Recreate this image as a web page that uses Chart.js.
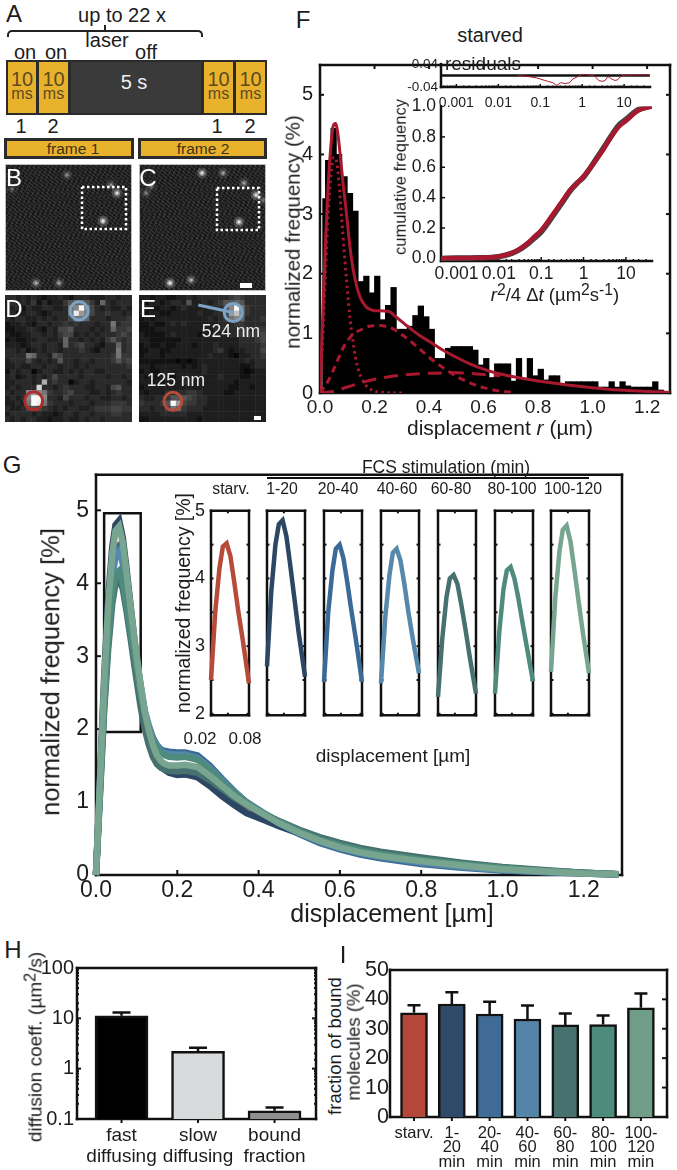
<!DOCTYPE html>
<html>
<head>
<meta charset="utf-8">
<title>Displacement analysis</title>
<script src="https://cdn.jsdelivr.net/npm/chart.js@4/dist/chart.umd.min.js"></script>
<style>
  html, body { margin: 0; padding: 0; background: #fff; }
  #page { position: relative; width: 677px; height: 1170px; overflow: hidden; font-family: "Liberation Sans", Arial, sans-serif; color: #1c1c1c; }
  canvas { position: absolute; }
  .lab { position: absolute; white-space: nowrap; line-height: 1; }
  .lab sup { font-size: 85%; line-height: 0; vertical-align: 0.38em; }
  .box { position: absolute; box-sizing: border-box; }
  .yellow { background: #e9b22d; }
  .micro { background-color: #1d1d1d;
    background-image: repeating-linear-gradient(37deg, rgba(255,255,255,.09) 0 1px, transparent 1px 3px),
                      repeating-linear-gradient(-61deg, rgba(255,255,255,.07) 0 1px, transparent 1px 4px),
                      repeating-linear-gradient(83deg, rgba(0,0,0,.25) 0 2px, transparent 2px 5px);
    border: 1px solid #bbb; }
</style>
</head>
<body>
<div id="page"></div>
<script>
// panel F: histogram of displacements (bin centres in um, frequency in %)
const histX = [0.02,0.03,0.05,0.07,0.09,0.11,0.13,0.15,0.17,0.19,0.21,0.23,0.25,0.27,0.29,0.31,0.33,0.35,0.37,0.39,0.41,0.43,0.45,0.47,0.49,0.51,0.53,0.55,0.57,0.59,0.61,0.63,0.65,0.67,0.69,0.71,0.73,0.75,0.77,0.79,0.81,0.83,0.85,0.87,0.89,0.91,0.93,0.95,0.97,0.99,1.01,1.03,1.05,1.07,1.09,1.11,1.13,1.15,1.17,1.19,1.21,1.23,1.25];
const histY = [3.26,3.9,4.44,4.0,3.63,3.35,3.05,1.87,1.96,1.68,1.96,1.23,1.47,1.77,1.07,1.07,1.12,1.3,1.46,1.28,1.07,0.58,0.58,0.75,0.78,0.78,0.78,0.78,0.72,0.47,0.58,0.26,0.49,0.49,0.49,0.2,0.58,0.23,0.58,0.29,0.4,0.22,0.29,0.29,0.15,0.19,0.19,0.19,0.19,0.19,0.19,0.1,0.1,0.19,0.1,0.19,0.12,0.1,0.1,0.1,0.1,0.19,0.05];
const fastX = [0,0.01,0.02,0.03,0.04,0.05,0.06,0.07,0.08,0.09,0.1,0.11,0.12,0.13,0.14,0.15,0.17,0.19,0.21,0.25,0.3];
const fastY = [0,0.9,2.0,3.0,3.65,3.95,3.9,3.5,2.9,2.3,1.75,1.25,0.9,0.6,0.4,0.27,0.12,0.05,0.02,0.005,0];
const slowX = [0,0.03,0.06,0.09,0.12,0.15,0.18,0.21,0.24,0.27,0.3,0.35,0.4,0.45,0.5,0.55,0.6,0.65,0.7];
const slowY = [0,0.2,0.5,0.8,0.98,1.06,1.12,1.13,1.12,1.07,0.98,0.8,0.6,0.43,0.28,0.17,0.09,0.04,0.01];
const boundX = [0,0.05,0.1,0.15,0.2,0.25,0.3,0.4,0.5,0.6,0.66];
const boundY = [0,0.03,0.1,0.17,0.23,0.27,0.3,0.33,0.34,0.31,0.29];

// panel F insets
const cumX = [0.00043,0.001,0.003,0.01,0.02,0.03,0.05,0.07,0.1,0.2,0.3,0.5,0.7,1,2,3,5,7,10,20,41];
const cumFit = [0,0.002,0.004,0.012,0.035,0.06,0.105,0.145,0.185,0.3,0.37,0.455,0.495,0.54,0.65,0.72,0.82,0.87,0.905,0.975,1.0];
const cumData = [0,0.002,0.004,0.012,0.033,0.056,0.1,0.135,0.175,0.29,0.36,0.45,0.495,0.535,0.655,0.73,0.825,0.88,0.915,0.98,1.005];
const resX = [0.03,0.05,0.08,0.1,0.15,0.2,0.25,0.3,0.4,0.5,0.6,0.8,1,1.5,2,2.5,3,3.5,4,4.5,5,6,7,8,10,20,41];
const resY = [0,-0.003,-0.008,-0.012,-0.02,-0.025,-0.035,-0.025,-0.028,-0.025,-0.012,-0.003,0.004,0.002,-0.002,-0.018,-0.02,-0.018,-0.005,-0.005,-0.012,-0.017,-0.015,-0.005,0.001,0.002,0.002];
const logLabels = [0.001,0.01,0.1,1,10];

// panel G: fitted curves on a common displacement grid
const dispGrid = [0,0.02,0.03,0.04,0.048,0.057,0.066,0.075,0.085,0.095,0.11,0.12,0.13,0.14,0.15,0.16,0.17,0.18,0.2,0.22,0.25,0.28,0.31,0.34,0.37,0.41,0.45,0.5,0.55,0.6,0.65,0.7,0.8,0.9,1.0,1.1,1.2,1.285];
const curveStarv = [0,2.5,3.5,4.15,4.47,4.52,4.33,3.95,3.5,3.1,2.45,2.12,1.88,1.7,1.58,1.5,1.44,1.41,1.38,1.38,1.37,1.27,1.16,1.05,0.95,0.84,0.72,0.6,0.49,0.4,0.33,0.28,0.2,0.14,0.09,0.05,0.025,0.01];
const curve1to20 = [0,2.7,3.8,4.5,4.8,4.86,4.62,4.2,3.7,3.2,2.55,2.2,1.92,1.72,1.58,1.5,1.44,1.4,1.37,1.38,1.34,1.22,1.08,0.96,0.85,0.76,0.67,0.57,0.47,0.4,0.34,0.29,0.21,0.15,0.1,0.06,0.03,0.01];
const curve20to40 = [0,2.47,3.5,4.12,4.44,4.5,4.3,3.95,3.52,3.12,2.47,2.2,2.02,1.88,1.78,1.72,1.7,1.69,1.68,1.68,1.64,1.5,1.32,1.15,1.0,0.85,0.71,0.56,0.44,0.35,0.28,0.23,0.15,0.1,0.06,0.04,0.02,0.005];
const curve40to60 = [0,2.45,3.42,4.05,4.38,4.44,4.27,3.93,3.5,3.12,2.6,2.25,2.05,1.88,1.77,1.7,1.67,1.66,1.65,1.65,1.6,1.47,1.3,1.14,1.0,0.86,0.73,0.58,0.46,0.37,0.3,0.25,0.17,0.11,0.07,0.04,0.02,0.005];
const curve60to80 = [0,2.25,3.1,3.72,4.0,4.05,3.92,3.62,3.25,2.85,2.3,2.0,1.78,1.62,1.52,1.47,1.44,1.43,1.42,1.43,1.4,1.3,1.18,1.06,0.96,0.84,0.74,0.62,0.52,0.44,0.37,0.32,0.24,0.17,0.11,0.07,0.03,0.01];
const curve80to100 = [0,2.3,3.2,3.84,4.12,4.17,4.0,3.72,3.35,3.0,2.48,2.2,2.0,1.85,1.74,1.68,1.64,1.62,1.61,1.62,1.58,1.45,1.28,1.13,0.99,0.85,0.73,0.6,0.49,0.41,0.34,0.29,0.21,0.15,0.1,0.06,0.03,0.01];
const curve100to120 = [0,2.62,3.7,4.4,4.72,4.78,4.55,4.15,3.68,3.22,2.6,2.25,1.98,1.78,1.64,1.56,1.52,1.5,1.5,1.51,1.48,1.36,1.22,1.08,0.97,0.84,0.71,0.58,0.47,0.38,0.31,0.26,0.19,0.13,0.08,0.05,0.02,0.01];
const timeNames = ["starv.","1-20","20-40","40-60","60-80","80-100","100-120"];
const timeColors = ["#b74a39","#2b4764","#3b6a96","#5588ab","#47716f","#4e8b7d","#78a58f"];
const peakBoxX = [0.02,0.11,0.11,0.02,0.02];
const peakBoxY = [1.96,1.96,4.96,4.96,1.96];

// panel H
const diffNames = [["fast","diffusing"],["slow","diffusing"],["bound","fraction"]];
const diffVals = [11.2,2.2,0.146];
const diffErr = [13,2.6,0.17];
const diffColors = ["#000000","#d9dadc","#8e8f90"];

// panel I
const boundNames = [["starv."],["1-","20","min"],["20-","40","min"],["40-","60","min"],["60-","80","min"],["80-","100","min"],["100-","120","min"]];
const boundVals = [35.4,38.4,35,33.3,31.3,31.4,37.1];
const boundErr = [38,42.4,39.2,37.9,35.2,34.5,42];
const boundColors = ["#b5473a","#2f4a68","#3f6b96","#5484a8","#46716f","#4d8b7d","#6f9d87"];

// panels B, C: bright spots (position in the 127 px field of view)
const spotsBX = [62,31,54,112,98,106,7];
const spotsBY = [11,119,119,29,57,21,25];
const spotsBbright = [0.4,0.6,0.5,0.9,1,0.4,0.25];
const spotsCX = [63,84,105,117,100,31,52,7,12,124];
const spotsCY = [9,9,19,31,58,119,116,29,22,36];
const spotsCbright = [0.9,0.5,0.5,0.9,1,1,0.6,0.35,0.35,0.3];
const fieldBoxBX = [77,121,121,77,77];
const fieldBoxBY = [23,23,65,65,23];
const fieldBoxCX = [78,120,120,78,78];
const fieldBoxCY = [24,24,66,66,24];

// panels D, E: zoomed pixels, one hex grey level per pixel
const pixelsD = [
"332323212232133322233233","232324131224677642732333","22313223322389f953232232","2312332123338ea853343323",
"323322323233588733323334","122321332334343332338344","112233213255633323237445","211223323245523232333454",
"121122332237332323246434","222123323327345332133734","332312323323334321333834","333387332653333333334844",
"233353232363323323334645","223223323323323233333334","132330233223232332233333","231232323533332333323323",
"2233323b3433023323333332","232333d33234333223325633","32339a984334533322323433","23239ff93325333233223323",
"22328fe84333233323334443","322356543232332234445544","233332322123323323334433","323233221223223233233333"];
const pixelsE = [
"221221122323333334543333","212212332622323466763333","221122123222233359f84333","21221122222322335ac84333",
"121222222222232348973334","112112323222222333443333","111222222222223333344344","211112322221222223344445",
"221111112222222222233345","121121122212223222233334","112211222222223421223335","122212222222232221022334",
"111111101012222222223233","221222221212322222211233","121122222222322222210122","212122122222222322211222",
"221212223222222222122222","122222222222222221122122","212223333443222211222222","322334666543322222222222",
"433346fa5443322222222222","332335874333222222222222","222233333222222222222222","112222222221222222222222"];
const ringDblue = {x:[14],y:[3]};
const ringDred = {x:[5.4],y:[20]};
const ringEblue = {x:[17.8],y:[3.3]};
const ringEred = {x:[6.4],y:[20.1]};
const tailEx = [11.2,17.8];
const tailEy = [1.9,3.3];

const RED = "#a8182e";
const page = document.getElementById("page");

Chart.defaults.font.family = '"Liberation Sans", Arial, sans-serif';
Chart.defaults.color = "#1c1c1c";
Chart.defaults.plugins.legend.display = false;
Chart.defaults.plugins.tooltip.enabled = false;
Chart.defaults.animation = false;

const zip = (xs, ys) => xs.map((x, i) => ({ x: x, y: ys[i] }));
const isDecade = v => Math.abs(Math.log10(v) - Math.round(Math.log10(v))) < 1e-6;

// frame and inward ticks
Chart.register({
  id: "frame",
  beforeDatasetsDraw(chart, args, o) {
    if (!o.sides && !o.ticks) return;
    const a = chart.chartArea, ctx = chart.ctx;
    ctx.save();
    ctx.strokeStyle = "#111";
    ctx.lineWidth = o.lw || 2.5;
    ctx.lineCap = "square";
    const seg = (x0, y0, x1, y1) => { ctx.beginPath(); ctx.moveTo(x0, y0); ctx.lineTo(x1, y1); ctx.stroke(); };
    const s = o.sides || "";
    if (s.includes("l")) seg(a.left, a.top, a.left, a.bottom);
    if (s.includes("r")) seg(a.right, a.top, a.right, a.bottom);
    if (s.includes("t")) seg(a.left, a.top, a.right, a.top);
    if (s.includes("b")) seg(a.left, a.bottom, a.right, a.bottom);
    ctx.lineCap = "butt";
    const t = o.ticks || "", len = o.len || 5;
    const lenFor = (scale, v) => scale.type === "logarithmic" && !isDecade(v) ? len * 0.5 : len;
    const sx = chart.scales.x, sy = chart.scales.y;
    ctx.lineWidth = o.tickLw || 2;
    sx.ticks.forEach(k => {
      const p = sx.getPixelForValue(k.value), l = lenFor(sx, k.value);
      if (p < a.left + 1 || p > a.right - 1) return;
      if (t.includes("b")) seg(p, a.bottom, p, a.bottom - l);
      if (t.includes("t")) seg(p, a.top, p, a.top + l);
      if (o.out) seg(p, a.bottom, p, a.bottom + o.out);
    });
    sy.ticks.forEach(k => {
      const p = sy.getPixelForValue(k.value), l = lenFor(sy, k.value);
      if (p < a.top + 1 || p > a.bottom - 1) return;
      if (t.includes("l")) seg(a.left, p, a.left + l, p);
      if (t.includes("r")) seg(a.right, p, a.right - l, p);
    });
    ctx.restore();
  }
});

// one-sided error bars over the bars
Chart.register({
  id: "whisker",
  afterDatasetsDraw(chart, args, o) {
    if (!o.tops) return;
    const ctx = chart.ctx, sx = chart.scales.x, sy = chart.scales.y;
    ctx.save();
    ctx.strokeStyle = "#111";
    ctx.lineWidth = 2.5;
    o.tops.forEach((top, i) => {
      const x = sx.getPixelForValue(i), y0 = sy.getPixelForValue(o.vals[i]), y1 = sy.getPixelForValue(top);
      ctx.beginPath();
      ctx.moveTo(x, y0); ctx.lineTo(x, y1);
      ctx.moveTo(x - o.cap, y1); ctx.lineTo(x + o.cap, y1);
      ctx.stroke();
    });
    ctx.restore();
  }
});

// puts a chart so that its plot area fills the box x0..x1, y0..y1 exactly
function place(x0, y0, x1, y1, m, cfg) {
  const c = document.createElement("canvas");
  c.width = x1 - x0 + m.l + m.r;
  c.height = y1 - y0 + m.t + m.b;
  c.style.left = (x0 - m.l) + "px";
  c.style.top = (y0 - m.t) + "px";
  page.appendChild(c);
  const o = cfg.options;
  o.responsive = false;
  const hidden = o.scales.x.display === false;
  o.layout = { autoPadding: false, padding: { left: hidden ? m.l : 0, top: m.t, right: m.r, bottom: hidden ? m.b : 0 } };
  o.scales.x.afterFit = s => { s.height = m.b; };
  o.scales.y.afterFit = s => { s.width = m.l; };
  return new Chart(c, cfg);
}

function label(html, cx, cy, size, extra) {
  const e = extra || {};
  const d = document.createElement("div");
  d.className = "lab";
  d.innerHTML = html;
  d.style.left = cx + "px";
  d.style.top = cy + "px";
  d.style.fontSize = size + "px";
  d.style.transform = "translate(-50%,-50%)" + (e.rot ? " rotate(-90deg)" : "");
  if (e.color) d.style.color = e.color;
  page.appendChild(d);
}

function box(x0, y0, x1, y1, cls, color) {
  const d = document.createElement("div");
  d.className = "box " + (cls || "");
  d.style.cssText = "left:" + x0 + "px;top:" + y0 + "px;width:" + (x1 - x0) + "px;height:" + (y1 - y0) + "px;" + (color ? "background:" + color + ";" : "");
  page.appendChild(d);
  return d;
}

const axis = (extra) => Object.assign({ grid: { display: false, drawTicks: false }, border: { display: false } }, extra);

// ---------- panel A, timing scheme
label("A", 14, 14, 24);
label("up to 22 x", 122, 15, 20);
const brace = box(7, 30, 203, 37);
brace.style.borderTop = "2px solid #222";
brace.style.borderLeft = "2px solid #222";
brace.style.borderRight = "2px solid #222";
brace.style.borderRadius = "5px 5px 0 0";
box(104, 25, 106, 31, "", "#222");
label("laser", 107, 40, 20);
label("off", 146, 52, 20);
label("on", 25, 52, 20);
label("on", 56, 52, 20);
box(6, 60, 267, 115, "", "#2b2b2b");
box(71, 62, 201, 113, "", "#3a3a3a");
label("5 s", 134, 82, 20, { color: "#eee" });
[[8, 36], [39, 68], [204, 233], [236, 265]].forEach(p => {
  box(p[0], 62, p[1], 113, "yellow");
  label("10", (p[0] + p[1]) / 2, 79, 20, { color: "#5c4a1f" });
  label("ms", (p[0] + p[1]) / 2, 94, 16, { color: "#5c4a1f" });
});
label("1", 21, 126, 20); label("2", 53, 126, 20); label("1", 217, 126, 20); label("2", 250, 126, 20);
box(4, 138, 134, 159, "", "#2b2b2b"); box(7, 141, 131, 156, "yellow");
box(138, 138, 267, 159, "", "#2b2b2b"); box(141, 141, 264, 156, "yellow");
label("frame 1", 73, 149, 15.5, { color: "#3c3214" });
label("frame 2", 203, 149, 15.5, { color: "#3c3214" });

// ---------- panels B, C
function spotsChart(x0, y0, xs, ys, lit, bx, by) {
  box(x0, y0, x0 + 127, y0 + 127, "micro");
  const layer = (r, a) => ({
    type: "scatter", data: zip(xs, ys), pointRadius: r, pointBorderWidth: 0,
    pointBackgroundColor: lit.map(b => "rgba(255,255,255," + (a * b) + ")")
  });
  place(x0, y0, x0 + 127, y0 + 127, { l: 0, r: 0, t: 0, b: 0 }, {
    type: "scatter",
    data: { datasets: [
      layer(1.5, 0.8), layer(3, 0.4), layer(5.5, 0.18),
      { type: "line", data: zip(bx, by), borderColor: "#fff", borderWidth: 2.5, borderDash: [2.5, 2.5], pointRadius: 0, tension: 0 }
    ] },
    options: { scales: {
      x: { type: "linear", display: false, min: 0, max: 127 },
      y: { type: "linear", display: false, min: 0, max: 127, reverse: true }
    } }
  });
}
spotsChart(5, 164, spotsBX, spotsBY, spotsBbright, fieldBoxBX, fieldBoxBY);
spotsChart(139, 164, spotsCX, spotsCY, spotsCbright, fieldBoxCX, fieldBoxCY);
label("B", 14, 178, 24, { color: "#fff" });
label("C", 148, 178, 24, { color: "#fff" });
box(240, 283, 252, 288, "", "#fff");

// ---------- panels D, E
function pixelChart(x0, y0, rows, rings, tail) {
  const pts = [], cols = [];
  rows.forEach((row, r) => row.split("").forEach((ch, c) => {
    const v = parseInt(ch, 16);
    const g = Math.min(250, Math.round(8 + 10 * v + 0.45 * v * v));
    pts.push({ x: c + 0.5, y: r + 0.5 });
    cols.push("rgb(" + g + "," + g + "," + g + ")");
  }));
  const sets = rings.map(g => ({
    type: "scatter", data: zip(g.pos.x, g.pos.y), pointRadius: 9, pointBorderWidth: 3,
    pointBorderColor: g.color, pointBackgroundColor: "transparent", order: 0
  }));
  if (tail) sets.push({ type: "line", data: zip(tail.x, tail.y), borderColor: "#7ba3c6", borderWidth: 3, pointRadius: 0, order: 0 });
  sets.push({ type: "scatter", data: pts, pointStyle: "rect", pointRadius: 4.1, pointBorderWidth: 0, pointBackgroundColor: cols, order: 1 });
  place(x0, y0, x0 + 127, y0 + 127, { l: 0, r: 0, t: 0, b: 0 }, {
    type: "scatter",
    data: { datasets: sets },
    options: { scales: {
      x: { type: "linear", display: false, min: 0, max: 24 },
      y: { type: "linear", display: false, min: 0, max: 24, reverse: true }
    } }
  });
}
pixelChart(5, 295, pixelsD, [{ pos: ringDblue, color: "#7ba3c6" }, { pos: ringDred, color: "#b02a2a" }]);
pixelChart(139, 295, pixelsE, [{ pos: ringEblue, color: "#7ba3c6" }, { pos: ringEred, color: "#b84a3a" }], { x: tailEx, y: tailEy });
label("D", 14, 309, 24, { color: "#fff" });
label("E", 148, 309, 24, { color: "#fff" });
label("524 nm", 231, 332, 17.5, { color: "#eee" });
label("125 nm", 176, 381, 17.5, { color: "#eee" });
box(254, 416, 261, 420, "", "#fff");

// ---------- panel F
const redLine = (xs, ys, width, dash, order) => ({
  type: "line", data: zip(xs, ys), borderColor: RED, borderWidth: width, borderDash: dash,
  pointRadius: 0, cubicInterpolationMode: "monotone", order: order
});
place(320, 50, 670, 393, { l: 40, r: 6, t: 4, b: 30 }, {
  type: "bar",
  data: { datasets: [
    redLine(dispGrid, curveStarv, 3, [], 0),
    redLine(fastX, fastY, 3, [2.5, 3.5], 1),
    redLine(slowX, slowY, 3, [7, 5], 1),
    redLine(boundX, boundY, 3, [14, 8], 1),
    { type: "bar", data: zip(histX, histY), backgroundColor: "#000", barThickness: 5.6, grouped: false, order: 5 }
  ] },
  options: {
    scales: {
      x: axis({ type: "linear", offset: false, min: 0, max: 1.284, ticks: { stepSize: 0.2, includeBounds: false, autoSkip: false, maxRotation: 0, padding: 3, font: { size: 19 }, callback: v => v.toFixed(1) } }),
      y: axis({ min: 0, max: 5.5, ticks: { stepSize: 1, includeBounds: false, padding: 7, font: { size: 20 }, callback: v => String(v) } })
    },
    plugins: { frame: { sides: "lrtb", ticks: "lrt", len: 4 } }
  }
});
label("F", 303, 20, 24);
label("starved", 490, 35, 20);
label("normalized frequency (%)", 293, 232, 20.5, { rot: true });
label("displacement <i>r</i> (µm)", 500, 427, 21);

// residuals
place(441, 59, 652, 87, { l: 44, r: 6, t: 6, b: 24 }, {
  type: "line",
  data: { datasets: [
    { data: zip(resX, resY), borderColor: RED, borderWidth: 1, pointRadius: 0, order: 0 },
    { data: zip([0.00043, 41], [0, 0]), borderColor: "#111", borderWidth: 2.5, pointRadius: 0, order: 1 }
  ] },
  options: { scales: {
    x: axis({ type: "logarithmic", min: 0.00043, max: 41.4, ticks: { autoSkip: false, maxRotation: 0, padding: 8, font: { size: 14 }, callback: v => logLabels.find(d => Math.abs(d - v) < d * 1e-6) !== undefined && String(v) || "" } }),
    y: axis({ min: -0.04, max: 0.04, ticks: { stepSize: 0.04, padding: 3, font: { size: 13.5 }, callback: v => Math.abs(v) < 1e-6 ? "0" : v.toFixed(2) } })
  }, plugins: { frame: { sides: "lb", ticks: "b", len: 3, tickLw: 1.5 } } }
});
label("residuals", 483, 63, 19);

// cumulative frequency
place(441, 99, 652, 261, { l: 44, r: 6, t: 8, b: 22 }, {
  type: "line",
  data: { datasets: [
    { data: zip(cumX, cumFit), borderColor: RED, borderWidth: 4.5, pointRadius: 0, cubicInterpolationMode: "monotone", order: 0 },
    { data: zip(cumX, cumData), borderColor: "#444", borderWidth: 5.5, pointRadius: 0, cubicInterpolationMode: "monotone", order: 1 }
  ] },
  options: { scales: {
    x: axis({ type: "logarithmic", min: 0.00043, max: 41.4, ticks: { autoSkip: false, maxRotation: 0, padding: 3, font: { size: 17.5 }, callback: v => logLabels.find(d => Math.abs(d - v) < d * 1e-6) !== undefined && String(v) || "" } }),
    y: axis({ min: -0.017, max: 1, ticks: { stepSize: 0.2, includeBounds: false, padding: 5, font: { size: 17.5 }, callback: v => v.toFixed(1) } })
  }, plugins: { frame: { sides: "lb", ticks: "bl", len: 4, tickLw: 1.5 } } }
});
label("cumulative frequency", 400, 177, 16.5, { rot: true });
label("<i>r</i><sup>2</sup>/4 Δ<i>t</i> (µm<sup>2</sup>s<sup>-1</sup>)", 555, 295, 18.5);

// ---------- panel G
const seriesG = [curveStarv, curve1to20, curve20to40, curve40to60, curve60to80, curve80to100, curve100to120];
const mainSets = seriesG.map((ys, i) => ({
  data: zip(dispGrid, ys), borderColor: timeColors[i], borderWidth: 6.5, pointRadius: 0, tension: 0, order: -i, clip: false
}));
mainSets.push({ data: zip(peakBoxX, peakBoxY), borderColor: "#111", borderWidth: 2.5, pointRadius: 0, tension: 0, order: 5 });
place(96, 458, 622, 875, { l: 40, r: 6, t: 4, b: 28 }, {
  type: "line",
  data: { datasets: mainSets },
  options: {
    scales: {
      x: axis({ type: "linear", min: 0, max: 1.294, ticks: { stepSize: 0.2, includeBounds: false, autoSkip: false, maxRotation: 0, padding: 2, font: { size: 23 }, callback: v => v.toFixed(1) } }),
      y: axis({ min: 0, max: 5.487, ticks: { stepSize: 1, includeBounds: false, padding: 7, font: { size: 23 }, callback: v => String(v) } })
    },
    plugins: { frame: { sides: "lrtb", ticks: "lb", len: 5 } }
  }
});
label("G", 12, 465, 24);
label("normalized frequency [%]", 51, 672, 25.5, { rot: true });
label("displacement [µm]", 392, 913, 25);

const insetLeft = [211, 267, 324, 381, 438, 495, 551];
const insetNameX = [231, 282, 338, 397, 451, 512, 573];
timeNames.forEach((name, i) => {
  const data = zip(dispGrid, seriesG[i]).filter(p => p.x >= 0.02 && p.x <= 0.11);
  place(insetLeft[i], 498, insetLeft[i] + 38, 726, { l: 30, r: 6, t: 4, b: 6 }, {
    type: "line",
    data: { datasets: [{ data: data, borderColor: timeColors[i], borderWidth: 4.5, pointRadius: 0, tension: 0, clip: false }] },
    options: {
      scales: {
        x: axis({ type: "linear", min: 0.02, max: 0.11, ticks: { display: false, stepSize: 0.06, includeBounds: false } }),
        y: axis({ min: 1.98, max: 5, ticks: { stepSize: 0.5, includeBounds: false, padding: 6, font: { size: 18 }, callback: v => (i === 0 && Number.isInteger(v)) ? String(v) : "" } })
      },
      plugins: { frame: { sides: "lrtb", ticks: "lrtb", len: 2.5 } }
    }
  });
  label(name, insetNameX[i], 489, 15.8);
});
box(267, 477, 589, 479, "", "#111");
label("FCS stimulation (min)", 446, 468, 17.5);
label("normalized frequency [%]", 184, 603, 19.5, { rot: true });
label("0.02", 200, 738, 17);
label("0.08", 245, 738, 17);
label("displacement [µm]", 393, 755, 19);

// ---------- panel H
place(77, 961, 316, 1119, { l: 40, r: 6, t: 8, b: 50 }, {
  type: "bar",
  data: { datasets: [{ data: zip([0, 1, 2], diffVals), backgroundColor: diffColors, borderColor: "#111", borderWidth: 2.5, barThickness: 53 }] },
  options: {
    scales: {
      x: axis({ type: "linear", offset: false, min: -0.582, max: 2.542, ticks: { stepSize: 1, includeBounds: false, autoSkip: false, maxRotation: 0, padding: 6, font: { size: 19, lineHeight: 1.1 }, callback: v => diffNames[v] } }),
      y: axis({ type: "logarithmic", min: 0.1, max: 100, ticks: { autoSkip: false, padding: 3, font: { size: 20 }, callback: v => isDecade(v) ? String(v) : "" } })
    },
    plugins: {
      frame: { sides: "lrtb", ticks: "lr", len: 4, out: 4 },
      whisker: { tops: diffErr, vals: diffVals, cap: 9 }
    }
  }
});
label("H", 13, 950, 24);
label("diffusion coeff. (µm<sup>2</sup>/s)", 35, 1047, 19, { rot: true });

// ---------- panel I
place(390, 964, 667, 1117, { l: 36, r: 6, t: 8, b: 53 }, {
  type: "bar",
  data: { datasets: [{ data: zip([0, 1, 2, 3, 4, 5, 6], boundVals), backgroundColor: boundColors, borderColor: "#111", borderWidth: 2.5, barThickness: 27 }] },
  options: {
    scales: {
      x: axis({ type: "linear", offset: false, min: -0.635, max: 6.69, ticks: { stepSize: 1, includeBounds: false, autoSkip: false, maxRotation: 0, padding: 9, font: { size: 16.5, lineHeight: 0.88 }, callback: v => boundNames[v] } }),
      y: axis({ min: 0, max: 50, ticks: { stepSize: 10, padding: 1, font: { size: 21.5 } } })
    },
    plugins: {
      frame: { sides: "lrtb", ticks: "r", len: 5, out: 4 },
      whisker: { tops: boundErr, vals: boundVals, cap: 6.5 }
    }
  }
});
label("I", 343, 955, 24);
label("fraction of bound", 335, 1046, 18.5, { rot: true });
label("molecules (%)", 354, 1042, 18.5, { rot: true });
</script>
</body>
</html>
